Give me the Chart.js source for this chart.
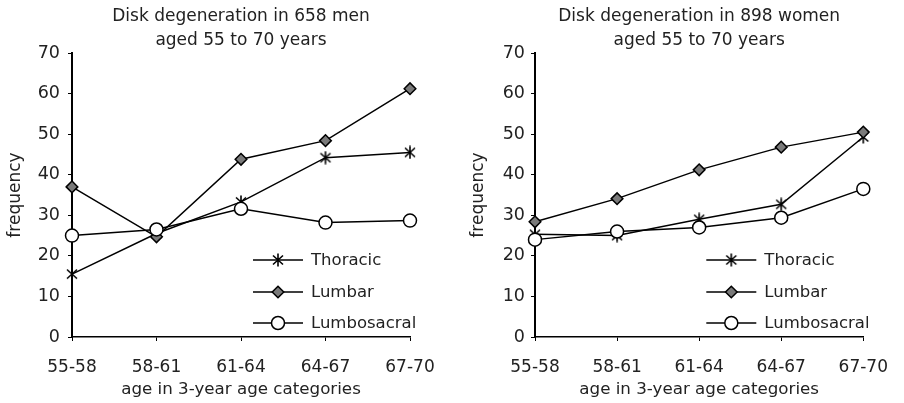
<!DOCTYPE html>
<html>
<head>
<meta charset="utf-8">
<script src="https://cdn.jsdelivr.net/npm/chart.js@4.4.1/dist/chart.umd.min.js"></script>
<style>
  html, body { margin: 0; padding: 0; background: #fff; }
  #wrap { position: relative; width: 904px; height: 403px; background: #fff; }
  canvas { position: absolute; top: 0; }
  #c1 { left: 0; }
  #c2 { left: 452px; }
</style>
</head>
<body>
<div id="wrap">
  <canvas id="c1" width="452" height="403"></canvas>
  <canvas id="c2" width="452" height="403"></canvas>
</div>
<script>
// ---- data ----
const categories = ['55-58', '58-61', '61-64', '64-67', '67-70'];
const seriesNames = ['Thoracic', 'Lumbar', 'Lumbosacral'];
const menThoracic = [15.5, 25.5, 33.3, 44.2, 45.5];
const menLumbar = [37, 24.7, 43.8, 48.4, 61.2];
const menLumbosacral = [25, 26.5, 31.6, 28.2, 28.7];
const womenThoracic = [25.3, 25, 29, 32.7, 49.3];
const womenLumbar = [28.4, 34.1, 41.2, 46.8, 50.5];
const womenLumbosacral = [24, 26, 27, 29.4, 36.5];
const menTitle = ['Disk degeneration in 658 men', 'aged 55 to 70 years'];
const womenTitle = ['Disk degeneration in 898 women', 'aged 55 to 70 years'];
const xTitle = 'age in 3-year age categories';
const yTitle = 'frequency';
const yMin = 0, yMax = 70, yStep = 10;

// ---- styles ----
const FONT = "'DejaVu Sans', Verdana, sans-serif";
const TXT = '#222';

function makeStar() {
  const c = document.createElement('canvas');
  c.width = 14; c.height = 14;
  const g = c.getContext('2d');
  g.strokeStyle = '#000';
  g.lineWidth = 1.6;
  g.beginPath();
  g.moveTo(2, 2.5); g.lineTo(12, 11.5);
  g.moveTo(12, 2.5); g.lineTo(2, 11.5);
  g.moveTo(7, 0.5); g.lineTo(7, 13.5);
  g.stroke();
  return c;
}
const starImg = makeStar();

function makeDatasets(th, lu, ls) {
  const base = { borderColor: '#000', borderWidth: 1.5, pointBorderColor: '#000', pointBorderWidth: 1.5, clip: false, fill: false, tension: 0 };
  return [
    Object.assign({}, base, { label: seriesNames[0], data: th, pointStyle: starImg, pointRadius: 6, pointBackgroundColor: '#000', order: 2 }),
    Object.assign({}, base, { label: seriesNames[1], data: lu, pointStyle: 'rectRot', pointRadius: 5.8, pointBackgroundColor: '#7a7a7a', order: 1 }),
    Object.assign({}, base, { label: seriesNames[2], data: ls, pointStyle: 'circle', pointRadius: 6.5, pointBackgroundColor: '#fff', order: 0 })
  ];
}

const insideLegend = {
  id: 'insideLegend',
  afterDatasetsDraw(chart) {
    const { ctx, chartArea } = chart;
    const rowsFromBottom = [77, 45.5, 14.5];
    chart.data.datasets.forEach((ds, i) => {
      const y = Math.round(chartArea.bottom - rowsFromBottom[i]);
      const x1 = chartArea.right - 157;
      const x2 = x1 + 50;
      const xm = x1 + 25;
      ctx.save();
      ctx.strokeStyle = '#000';
      ctx.lineWidth = ds.borderWidth;
      ctx.beginPath();
      ctx.moveTo(x1, y); ctx.lineTo(x2, y);
      ctx.stroke();
      ctx.fillStyle = ds.pointBackgroundColor;
      ctx.strokeStyle = '#000';
      ctx.lineWidth = ds.pointBorderWidth;
      Chart.helpers.drawPoint(ctx, { pointStyle: ds.pointStyle, radius: ds.pointRadius, borderWidth: ds.pointBorderWidth, rotation: 0 }, xm, y);
      ctx.fillStyle = TXT;
      ctx.font = "16.5px " + FONT;
      ctx.textBaseline = 'middle';
      ctx.textAlign = 'left';
      ctx.fillText(ds.label, chartArea.right - 99, y + 1);
      ctx.restore();
    });
  }
};

function makeChart(id, title, datasets, pad) {
  return new Chart(document.getElementById(id), {
    type: 'line',
    data: { labels: categories, datasets: datasets },
    plugins: [insideLegend],
    options: {
      responsive: false,
      animation: false,
      devicePixelRatio: 1,
      layout: { padding: { left: pad.left, right: pad.right, top: 0, bottom: 2 } },
      plugins: {
        legend: { display: false },
        tooltip: { enabled: false },
        title: {
          display: true,
          text: title,
          fullSize: false,
          color: TXT,
          font: { family: FONT, size: 17, weight: 'normal', lineHeight: '24px' },
          padding: { top: 5, bottom: 0 }
        }
      },
      scales: {
        x: {
          type: 'category',
          offset: false,
          afterFit: (s) => { s.height = 64; },
          grid: { drawOnChartArea: false, drawTicks: true, tickLength: 4, tickColor: '#000', tickWidth: 1 },
          border: { display: true, color: '#000', width: 1.5 },
          ticks: { color: TXT, padding: 16, maxRotation: 0, autoSkip: false, font: { family: FONT, size: 17 } },
          title: { display: true, text: xTitle, color: TXT, padding: { top: 0, bottom: 1 }, font: { family: FONT, size: 16.7 } }
        },
        y: {
          min: yMin, max: yMax,
          afterFit: (s) => { s.width = pad.axis - pad.left; },
          grid: { drawOnChartArea: false, drawTicks: true, tickLength: 4, tickColor: '#000', tickWidth: 1 },
          border: { display: true, color: '#000', width: 2 },
          ticks: { stepSize: yStep, color: TXT, padding: pad.tickPad, font: { family: FONT, size: 17.5 } },
          title: { display: true, text: yTitle, color: TXT, padding: { top: 1, bottom: 0 }, font: { family: FONT, size: 17 } }
        }
      }
    }
  });
}

makeChart('c1', menTitle, makeDatasets(menThoracic, menLumbar, menLumbosacral), { left: 4, right: 42, axis: 72, tickPad: 8 });
makeChart('c2', womenTitle, makeDatasets(womenThoracic, womenLumbar, womenLumbosacral), { left: 15, right: 31, axis: 83, tickPad: 6 });
</script>
</body>
</html>
